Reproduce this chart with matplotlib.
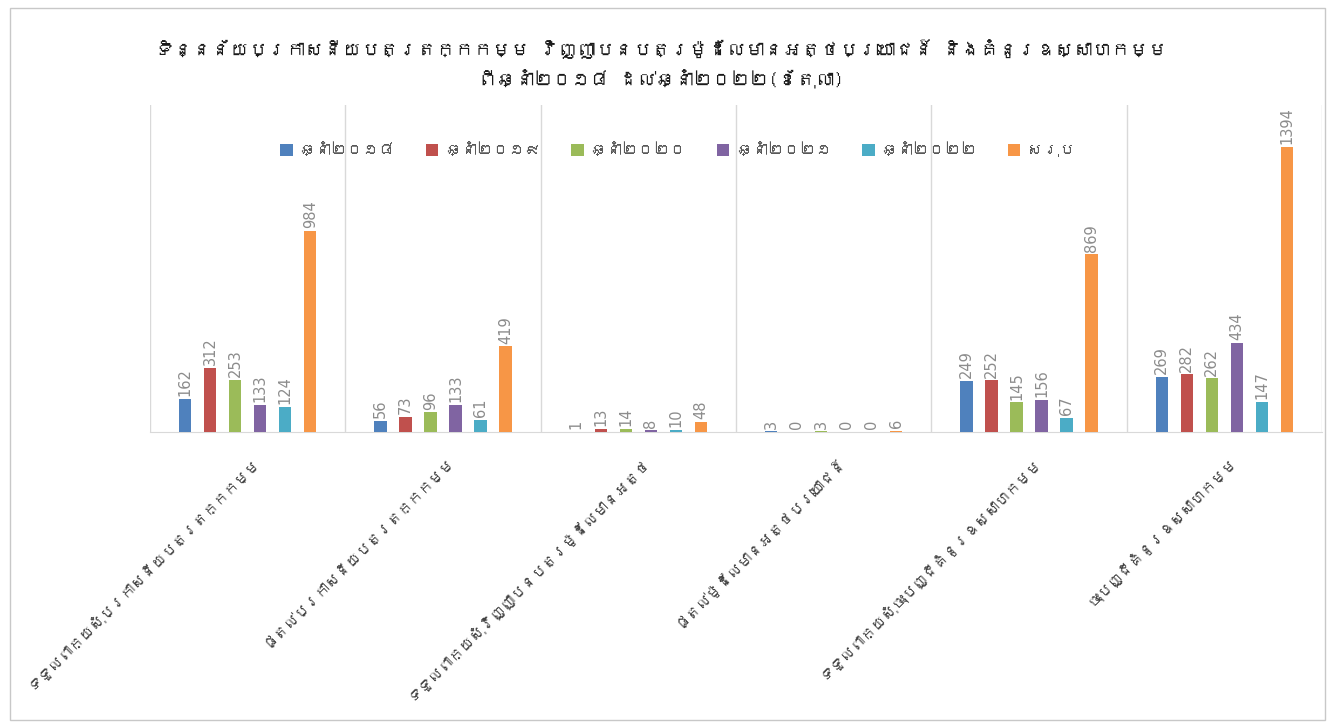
import numpy as np
import matplotlib
matplotlib.use("Agg")
import matplotlib.pyplot as plt
from matplotlib import font_manager
from matplotlib.ft2font import FT2Font
from matplotlib.patches import Rectangle

categories = [
    "ទទួលពាក្យសុំប្រកាសនីយបត្រតក្កកម្ម",
    "ផ្តល់ប្រកាសនីយបត្រតក្កកម្ម",
    "ទទួលពាក្យសុំវិញ្ញាបនបត្រម៉ូដែលមានអត្ថ",
    "ផ្តល់ម៉ូដែលមានអត្ថប្រយោជន៍",
    "ទទួលពាក្យសុំចុះបញ្ជីគំនូរឧស្សាហកម្ម",
    "ចុះបញ្ជីគំនូរឧស្សាហកម្ម",
]
series_names = ["ឆ្នាំ២០១៨", "ឆ្នាំ២០១៩", "ឆ្នាំ២០២០", "ឆ្នាំ២០២១", "ឆ្នាំ២០២២", "សរុប"]
y2018 = [162, 56, 1, 3, 249, 269]
y2019 = [312, 73, 13, 0, 252, 282]
y2020 = [253, 96, 14, 3, 145, 262]
y2021 = [133, 133, 8, 0, 156, 434]
y2022 = [124, 61, 10, 0, 67, 147]
total = [984, 419, 48, 6, 869, 1394]

title = ("ទិន្នន័យប្រកាសនីយបត្រតក្កកម្ម វិញ្ញាបនបត្រម៉ូដែលមានអត្ថប្រយោជន៍ និងគំនូរឧស្សាហកម្ម\n"
         "ពីឆ្នាំ២០១៨ ដល់ឆ្នាំ២០២២(ខែតុលា)")

colors = ["#4F81BD", "#C0504D", "#9BBB59", "#8064A2", "#4BACC6", "#F79646"]


def khmer_families():
    # look for any installed font that covers the Khmer block
    found = []
    for f in font_manager.fontManager.ttflist:
        try:
            cmap = FT2Font(f.fname).get_charmap()
        except Exception:
            continue
        if 0x1780 in cmap and 0x17E0 in cmap and f.name not in found:
            found.append(f.name)
    return found


families = khmer_families() + ['DejaVu Sans']
plt.rcParams['font.family'] = families

fig = plt.figure(figsize=(13.3, 7.25), dpi=100)
ax = fig.add_axes([150 / 1330, 1 - 432 / 725, 1172 / 1330, 327 / 725])

x = np.arange(len(categories))
all_series = [y2018, y2019, y2020, y2021, y2022, total]
step = 0.128
width = 0.064
for i, (vals, name, c) in enumerate(zip(all_series, series_names, colors)):
    pos = x + (i - 2.5) * step
    ax.bar(pos, vals, width=width, color=c, label=name, zorder=3)
    for p, v in zip(pos, vals):
        ax.text(p, v + 14, str(v), rotation=90, ha='center', va='bottom',
                fontsize=10.5, color='#8c8c8c', zorder=4, family='DejaVu Sans')

ax.set_xlim(-0.5, len(categories) - 0.5)
ax.set_ylim(0, 1600)
ax.set_yticks([])
for b in np.arange(-0.5, len(categories), 1.0):
    ax.axvline(b, color='#d9d9d9', lw=1, zorder=1)
for s in ['top', 'right', 'left']:
    ax.spines[s].set_visible(False)
ax.spines['bottom'].set_color('#d9d9d9')

ax.set_xticks(x + 0.02)
ax.set_xticklabels(categories, rotation=45, ha='right', rotation_mode='anchor',
                   fontsize=10.5, color='#404040')
ax.tick_params(axis='x', length=0, pad=16)

ax.legend(loc='upper center', bbox_to_anchor=(0.45, 0.93), ncol=6, frameon=False,
          fontsize=11.5, handlelength=0.8, handleheight=0.8, columnspacing=1.9,
          handletextpad=0.4, labelcolor='#595959')

fig.text(0.497, 0.912, title, ha='center', va='center', fontsize=13.5,
         fontweight='bold', color='#1a1a1a', linespacing=1.6)

fig.patches.append(Rectangle((10 / 1330, 5 / 725), 1315 / 1330, 712 / 725,
                             transform=fig.transFigure, fill=False,
                             edgecolor='#c8c8c8', lw=1))

fig.savefig('out.png', dpi=100)
